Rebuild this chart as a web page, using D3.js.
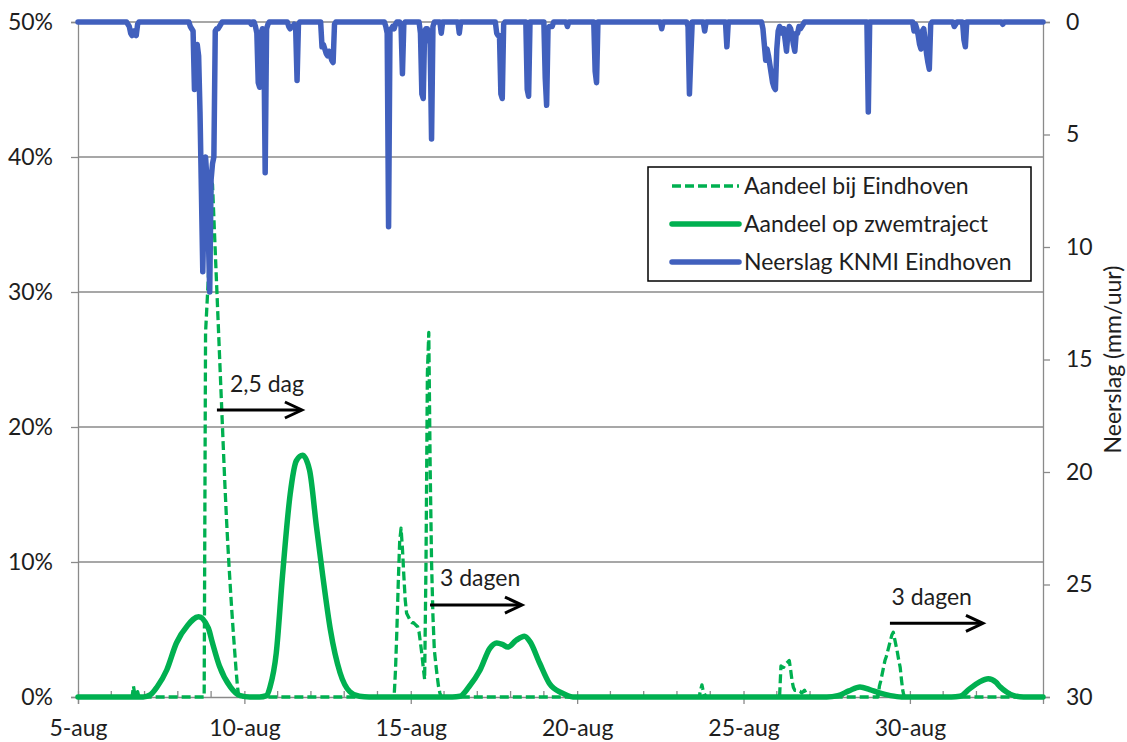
<!DOCTYPE html>
<html>
<head>
<meta charset="utf-8">
<script src="https://cdn.jsdelivr.net/npm/d3@7"></script>
<style>
  body { margin: 0; background: #fff; }
  text { font-family: Lato, "Open Sans", sans-serif; fill: #1e1e1e; }
</style>
</head>
<body>
<div id="chart"></div>
<script>
// time axis: hours since 5-aug 00:00, up to 3-sep 00:00
const totalHours = 696;
const dayLabels = ["5-aug", "10-aug", "15-aug", "20-aug", "25-aug", "30-aug"];
const pctTicks = [0, 10, 20, 30, 40, 50];
const rainTicks = [0, 5, 10, 15, 20, 25, 30];

// Neerslag KNMI Eindhoven, [hour, mm/uur] (hours not listed: 0)
const rainKNMI = [
  [36, 0.1], [37, 0.2], [38, 0.5], [39, 0.6], [40, 0.4], [41, 0.5], [42, 0.6], [43, 0.1],
  [81, 0.2], [82, 0.3], [83, 0.4], [84, 3.0], [85, 1.5], [86, 1.0], [87, 1.5], [88, 4.0],
  [89, 7.5], [90, 11.1], [91, 8.0], [92, 6.0], [93, 7.0], [94, 9.5], [95, 12.0], [96, 7.0],
  [97, 6.3], [98, 6.0], [99, 0.4], [100, 0.3], [101, 0.3], [102, 0.2], [103, 0.1],
  [125, 0.1], [128, 0.2], [129, 0.5], [130, 2.7], [131, 2.9], [132, 0.5], [133, 0.3],
  [134, 0.4], [135, 6.7], [136, 0.3], [137, 0.1],
  [152, 0.2], [153, 0.3], [154, 0.2], [155, 0.2], [156, 0.1], [157, 0.3], [158, 2.6], [159, 0.1],
  [176, 1.1], [177, 1.0], [178, 1.2], [179, 1.4], [180, 1.5], [181, 1.3], [182, 1.5],
  [183, 1.7], [184, 1.8], [185, 0.1],
  [222, 0.2], [223, 0.5], [224, 9.1], [225, 0.4], [226, 0.3], [227, 0.2], [228, 0.3], [229, 0.1],
  [233, 0.2], [234, 2.3], [235, 0.1],
  [247, 0.5], [248, 3.2], [249, 3.4], [250, 0.4], [251, 0.3], [252, 0.3], [253, 0.5],
  [254, 1.0], [255, 5.2], [256, 0.2],
  [262, 0.5], [275, 0.5],
  [302, 0.5], [303, 0.6], [304, 0.6], [305, 3.2], [306, 3.4], [307, 0.1],
  [324, 3.0], [325, 3.3],
  [337, 2.5], [338, 3.7], [339, 0.3], [340, 0.2], [341, 0.2], [342, 0.2],
  [353, 0.2], [373, 2.2], [374, 2.7], [421, 0.3],
  [440, 0.2], [441, 3.2], [442, 1.5], [452, 0.4], [468, 1.1],
  [494, 0.3], [495, 1.0], [496, 1.7], [497, 1.2], [498, 1.5], [499, 1.9], [500, 2.3],
  [501, 2.7], [502, 2.9], [503, 3.0], [504, 1.2], [505, 0.4], [506, 0.2], [507, 0.3],
  [508, 0.5], [509, 0.3], [510, 0.8], [511, 1.3], [512, 0.5], [513, 0.2], [514, 0.3],
  [515, 0.6], [516, 1.0], [517, 1.3], [518, 0.5], [519, 0.5], [520, 0.2], [521, 0.3],
  [522, 0.2], [523, 0.1],
  [570, 4.0],
  [603, 0.4], [604, 0.1], [605, 0.3], [606, 0.6], [607, 1.0], [608, 1.2], [609, 0.4],
  [610, 0.3], [611, 0.8], [612, 1.4], [613, 1.8], [614, 2.1], [615, 0.1],
  [632, 0.2], [633, 0.1], [639, 0.8], [640, 1.1], [667, 0.1]
];

// Aandeel bij Eindhoven (%), [hour, %] (hours not listed: 0)
const shareEindhoven = [
  [40, 0.8], [41, 0.2], [43, 0.4],
  [92, 27], [93, 29], [94, 31], [95, 34], [96, 37], [97, 38], [98, 35.5], [99, 33],
  [100, 30.5], [101, 28], [102, 25.5], [103, 23], [104, 20.5], [105, 18], [106, 15.6],
  [107, 13.4], [108, 11.4], [109, 9.6], [110, 7.9], [111, 6.3], [112, 4.8], [113, 3.4],
  [114, 2.0], [115, 0.8],
  [229, 2], [230, 5], [231, 8.5], [232, 11.5], [233, 12.5], [234, 11], [235, 9], [236, 7.2],
  [237, 6.2], [238, 6.0], [239, 5.8], [240, 5.6], [241, 5.5], [242, 5.5], [243, 5.4],
  [244, 5.3], [245, 5.2], [246, 4.8], [247, 4.0], [248, 3.2], [249, 2.2], [250, 1.3],
  [251, 10], [252, 24], [253, 27], [254, 17], [255, 10], [256, 6], [257, 3.5], [258, 2.5],
  [259, 1.6], [260, 0.8], [261, 0.3],
  [449, 0.5], [450, 0.9], [451, 0.4], [452, 0.2],
  [507, 2.3], [508, 2.2], [509, 2.2], [510, 2.4], [511, 2.5], [512, 2.6], [513, 2.7],
  [514, 2.0], [515, 1.2], [516, 0.7], [517, 0.5], [518, 0.5], [519, 0.45], [520, 0.45],
  [521, 0.4], [522, 0.3], [523, 0.4], [524, 0.5], [525, 0.3], [526, 0.2], [527, 0.1],
  [578, 0.8], [579, 1.2], [580, 1.7], [581, 2.2], [582, 2.7], [583, 3.0], [584, 3.4],
  [585, 3.8], [586, 4.2], [587, 4.6], [588, 4.8], [589, 4.3], [590, 3.8], [591, 3.3],
  [592, 2.7], [593, 2.2], [594, 1.2], [595, 0.4]
];

// Aandeel op zwemtraject (%), read points along the curve, [hour, %]
const shareZwem = [
  [0, 0], [47, 0], [52, 0.15], [57, 0.74], [64, 2.0], [71, 4.0], [79, 5.3], [87, 5.95],
  [94, 5.1], [97, 4.0], [102, 2.3], [110, 0.74], [117, 0.1], [124, 0],
  [131, 0], [136, 0.1], [138.5, 0.74], [143, 3.26], [147.5, 9], [153, 15], [157.5, 17.5],
  [162, 17.9], [167, 16.8], [172, 12.6], [176.5, 9], [182, 5], [189, 1.8], [196, 0.4],
  [203, 0.05], [210, 0],
  [270, 0], [275.5, 0.05], [282, 0.76], [290, 2.0], [297, 3.6], [302, 4.0], [306, 3.9],
  [310, 3.7], [316, 4.2], [322, 4.5], [326, 4.1], [333, 2.5], [340, 1.0], [349, 0.3], [357, 0],
  [540, 0], [548, 0.1], [556, 0.45], [564, 0.75], [571, 0.55], [578, 0.3], [586, 0.1], [594, 0],
  [630, 0], [636, 0.05], [643, 0.6], [650, 1.1], [656.5, 1.35], [662, 1.1], [665, 0.76],
  [670, 0.35], [675, 0.1], [682, 0], [696, 0]
];

// annotations: arrow from hour to hour at a % level, label anchored at hour / %
const notes = [
  { label: "2,5 dag", from: 100.2, to: 161.5, pct: 21.26, textHour: 109.6, textPct: 22.6 },
  { label: "3 dagen", from: 253.9, to: 320.2, pct: 6.81, textHour: 261.1, textPct: 8.24 },
  { label: "3 dagen", from: 585.6, to: 652.7, pct: 5.46, textHour: 586.8, textPct: 6.81 }
];

const legendItems = [
  { name: "Aandeel bij Eindhoven", color: "#00b050", width: 3.5, dash: "9,4" },
  { name: "Aandeel op zwemtraject", color: "#00b050", width: 5.5, dash: null },
  { name: "Neerslag KNMI Eindhoven", color: "#4160bd", width: 5.5, dash: null }
];

const W = 1127, H = 742;
const margin = { top: 22, right: 84, bottom: 45, left: 78 };
const plotL = margin.left, plotR = W - margin.right, plotT = margin.top, plotB = H - margin.bottom;
const gridColor = "#8a8a8a";
const green = "#00b050", blue = "#4160bd";
const fontSize = "23px";

const svg = d3.select("#chart").append("svg")
  .attr("width", W)
  .attr("height", H);

const x = d3.scaleLinear().domain([0, totalHours]).range([plotL, plotR]);
const yL = d3.scaleLinear().domain([0, 50]).range([plotB, plotT]);
const yR = d3.scaleLinear().domain([0, 30]).range([plotT, plotB]);

// full hourly series, zero where nothing was read
function hourly(pairs) {
  const m = new Map(pairs);
  return d3.range(0, totalHours + 1).map(h => [h, m.get(h) || 0]);
}

// gridlines
svg.append("g")
  .selectAll("line")
  .data(pctTicks.filter(d => d > 0))
  .enter()
  .append("line")
  .attr("x1", plotL).attr("x2", plotR)
  .attr("y1", d => yL(d)).attr("y2", d => yL(d))
  .style("stroke", gridColor)
  .style("stroke-width", 1.3);

// left axis
const axL = svg.append("g").attr("transform", `translate(${plotL},0)`)
  .call(d3.axisLeft(yL).tickValues(pctTicks).tickSize(7).tickPadding(18).tickFormat(d => d + "%"));
// right axis
const axR = svg.append("g").attr("transform", `translate(${plotR},0)`)
  .call(d3.axisRight(yR).tickValues(rainTicks).tickSize(7).tickPadding(16));
// bottom axis: major ticks crossing, minor daily ticks inside
const axB = svg.append("g").attr("transform", `translate(0,${plotB})`)
  .call(d3.axisBottom(x).tickValues(d3.range(0, 601, 120)).tickSize(7).tickPadding(16)
    .tickFormat((d, i) => dayLabels[i]));

[axL, axR, axB].forEach(ax => {
  ax.select(".domain").style("stroke", gridColor).style("stroke-width", 1.3);
  ax.selectAll(".tick line").style("stroke", gridColor).style("stroke-width", 1.3);
  ax.selectAll("text").style("font-size", fontSize).style("fill", "#1e1e1e")
    .style("font-family", "Lato, 'Open Sans', sans-serif");
});
axB.selectAll(".tick line").attr("y1", -6);
axB.selectAll(".tick text").attr("dy", "0.71em");

svg.append("g")
  .selectAll("line")
  .data(d3.range(24, totalHours, 24).filter(h => h % 120 !== 0))
  .enter()
  .append("line")
  .attr("x1", d => x(d)).attr("x2", d => x(d))
  .attr("y1", plotB - 6).attr("y2", plotB)
  .style("stroke", gridColor)
  .style("stroke-width", 1.3);

// right axis title
svg.append("text")
  .attr("transform", `translate(${W - 6},${(plotT + plotB) / 2}) rotate(-90)`)
  .attr("text-anchor", "middle")
  .style("font-size", fontSize)
  .text("Neerslag (mm/uur)");

// series
const lineL = d3.line().x(d => x(d[0])).y(d => yL(d[1]));
const lineSmooth = d3.line().x(d => x(d[0])).y(d => yL(d[1])).curve(d3.curveMonotoneX);
const lineR = d3.line().x(d => x(d[0])).y(d => yR(d[1]));

svg.append("path")
  .datum(hourly(shareEindhoven))
  .attr("d", lineL)
  .style("fill", "none")
  .style("stroke", green)
  .style("stroke-width", 3.3)
  .style("stroke-dasharray", "9,4")
  .style("stroke-linejoin", "round");

svg.append("path")
  .datum(shareZwem)
  .attr("d", lineSmooth)
  .style("fill", "none")
  .style("stroke", green)
  .style("stroke-width", 5.5)
  .style("stroke-linejoin", "round")
  .style("stroke-linecap", "round");

svg.append("path")
  .datum(hourly(rainKNMI))
  .attr("d", lineR)
  .style("fill", "none")
  .style("stroke", blue)
  .style("stroke-width", 5.5)
  .style("stroke-linejoin", "round")
  .style("stroke-linecap", "round");

// arrows + labels
const ann = svg.append("g");
notes.forEach(n => {
  const x1 = x(n.from), x2 = x(n.to), yy = yL(n.pct);
  ann.append("line")
    .attr("x1", x1).attr("x2", x2 - 1).attr("y1", yy).attr("y2", yy)
    .style("stroke", "#000").style("stroke-width", 3);
  ann.append("path")
    .attr("d", `M${x2 - 17},${yy - 8}L${x2},${yy}L${x2 - 17},${yy + 8}`)
    .style("fill", "none").style("stroke", "#000").style("stroke-width", 3)
    .style("stroke-linejoin", "miter");
  ann.append("text")
    .attr("x", x(n.textHour)).attr("y", yL(n.textPct))
    .style("font-size", fontSize)
    .text(n.label);
});

// legend
const lg = svg.append("g").attr("transform", "translate(648,167)");
lg.append("rect")
  .attr("width", 383).attr("height", 114)
  .style("fill", "#fff").style("stroke", "#000").style("stroke-width", 1.5);
legendItems.forEach((it, i) => {
  const yy = 19 + i * 38;
  lg.append("line")
    .attr("x1", 24).attr("x2", 91).attr("y1", yy).attr("y2", yy)
    .style("stroke", it.color).style("stroke-width", it.width)
    .style("stroke-dasharray", it.dash)
    .style("stroke-linecap", it.dash ? "butt" : "round");
  lg.append("text")
    .attr("x", 96).attr("y", yy).attr("dy", "0.35em")
    .style("font-size", fontSize)
    .text(it.name);
});
</script>
</body>
</html>
